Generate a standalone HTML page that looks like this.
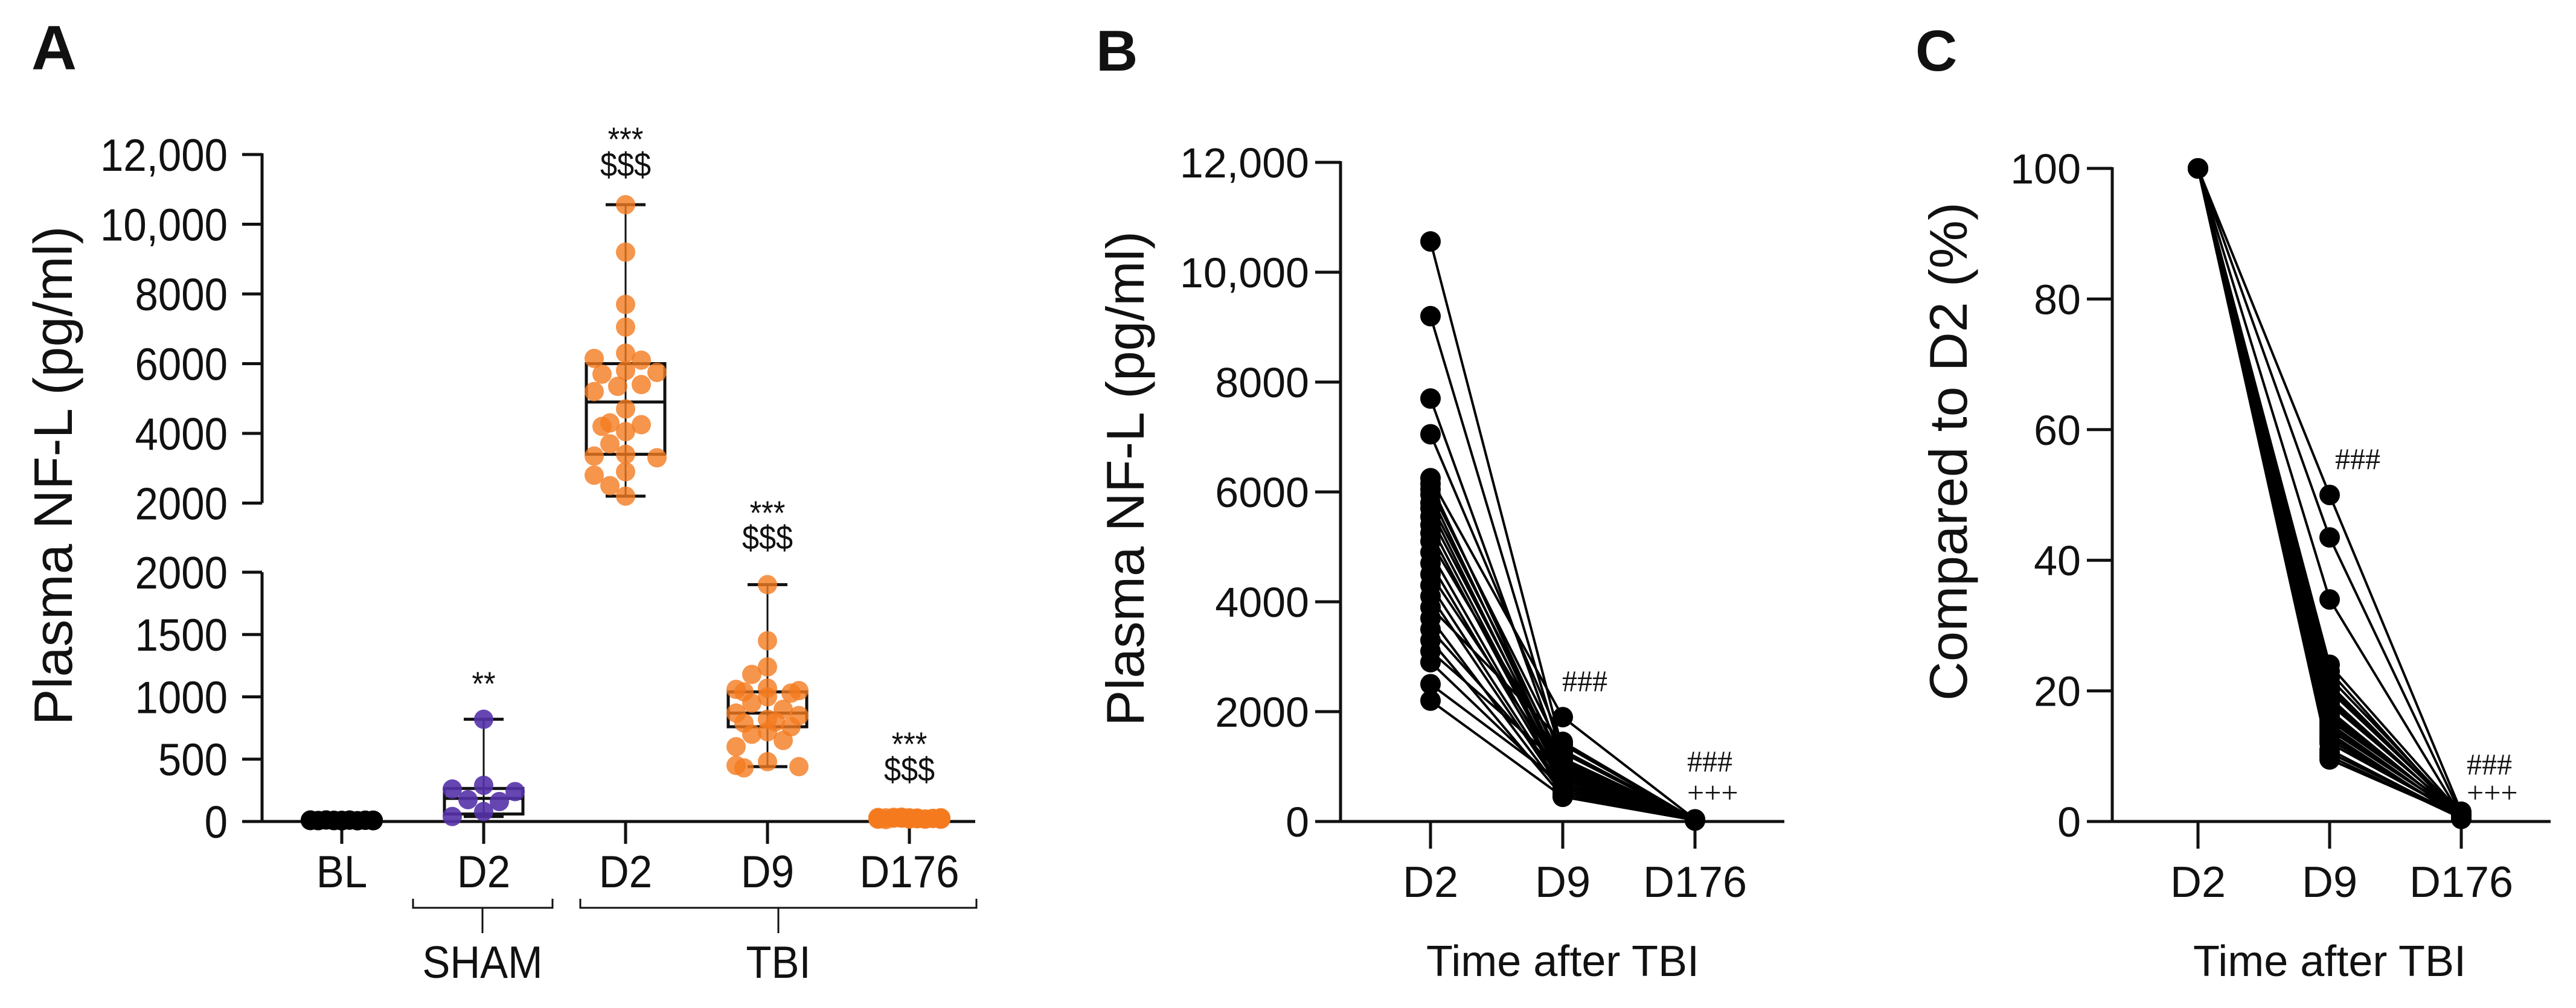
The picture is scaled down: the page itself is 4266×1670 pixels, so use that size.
<!DOCTYPE html>
<html><head><meta charset="utf-8"><style>
html,body{margin:0;padding:0;background:#fff;}
svg{display:block;}
text{font-family:"Liberation Sans",Arial,sans-serif;fill:#111;}
.ser{font-family:"Liberation Serif",serif;}
</style></head><body>
<svg id="fig" xmlns="http://www.w3.org/2000/svg" width="4266" height="1670" viewBox="0 0 4266 1670">
<g id="pa"></g>
<g id="pb"></g>
<g id="pc"></g>
</svg>
<script>
// ---------- Panel A data ----------
const catsA = ["BL","D2","D2","D9","D176"];
const groupsA = ["SHAM","TBI"];
const upperTicksA = [2000,4000,6000,8000,10000,12000];
const upperTickLabelsA = ["2000","4000","6000","8000","10,000","12,000"];
const lowerTicksA = [0,500,1000,1500,2000];
const lowerTickLabelsA = ["0","500","1000","1500","2000"];
const blVals = [5,8,10,12,6,9,11,7,10,8,12,6,9,10,7,11,8,10,9,12,6,8,10,9,11,7,10,8];
const shamD2Vals = [820,290,260,240,175,160,80,40];
const tbiD2Vals = [10560,9200,7700,7050,6300,6150,6100,5800,5750,5700,5400,5350,5200,4700,4300,4250,4200,4050,3700,3400,3350,3300,2900,2800,2500,2200];
const tbiD9Vals = [1900,1450,1240,1180,1070,1060,1050,1040,1030,1000,950,900,870,850,820,800,790,760,720,700,650,600,480,450,440,430];
const tbiD176Vals = [20,25,30,18,22,35,28,15,24,30,26,20,32,18,27,22,29,25,21,33,19,26,24,28,23];
const boxSham = {min:40,q1:60,med:185,q3:265,max:820};
const boxD2 = {min:2200,q1:3400,med:4900,q3:6000,max:10560};
const boxD9 = {min:440,q1:760,med:870,q3:1040,max:1900};
// ---------- Panel B data ----------
const catsB = ["D2","D9","D176"];
const ticksB = [0,2000,4000,6000,8000,10000,12000];
const tickLabelsB = ["0","2000","4000","6000","8000","10,000","12,000"];
const bD2 = [10560,9200,7700,7050,6250,6150,6050,5950,5800,5700,5550,5400,5250,5100,4900,4700,4500,4300,4100,3900,3700,3500,3300,3100,2900,2500,2200];
const bD9 = [1300,1150,1050,1400,1900,1000,1250,900,1100,850,950,800,750,1050,700,650,900,600,550,1450,500,800,450,1000,600,700,450];
const bD176 = [30,25,20,35,40,22,28,18,30,26,24,20,32,18,27,22,29,25,21,33,19,26,24,28,23,20,25];
// ---------- Panel C data ----------
const catsC = ["D2","D9","D176"];
const ticksC = [0,20,40,60,80,100];
const tickLabelsC = ["0","20","40","60","80","100"];
const cD9 = [50,43.5,34,24,23,22,21,20.5,20,19,18.5,18,17,16.5,16,15.5,15,14.5,14,13.5,13,12.5,12,11,10.5,10,9.5];
const cD176 = [1.5,1,0.8,1.2,0.5,1,0.7,0.9,1.1,0.6,0.8,1,0.5,0.7,0.9,1.2,0.6,0.8,1,0.4,0.7,0.9,1,0.6,0.8,0.5,0.7];

const NS="http://www.w3.org/2000/svg";
function mk(parent,tag,attrs,txt){const e=document.createElementNS(NS,tag);for(const k in attrs)e.setAttribute(k,attrs[k]);if(txt!==undefined)e.textContent=txt;parent.appendChild(e);return e;}
const SW=5;

// ================= Panel A =================
(function(){
const g=document.getElementById('pa');
const axX=434;
const yU=v=>833.5-(v-2000)*(577.5/10000);   // upper segment 2000..12000
const yL=v=>1361-v*(413/2000);              // lower segment 0..2000
const xCat=i=>566+i*235;
let t=mk(g,'text',{x:52,y:115,'font-size':104,'font-weight':'bold'},'A');

t=mk(g,'text',{transform:'translate(119,788) rotate(-90)','text-anchor':'middle','font-size':90,textLength:827,lengthAdjust:'spacingAndGlyphs'},'Plasma NF-L (pg/ml)');

let l=mk(g,'line',{x1:axX,y1:yU(12000)-2,x2:axX,y2:yU(2000),stroke:'#111','stroke-width':SW});

l=mk(g,'line',{x1:axX,y1:yL(2000),x2:axX,y2:yL(0),stroke:'#111','stroke-width':SW});

upperTicksA.forEach((v,i)=>{
  const y=yU(v);
  const tk=mk(g,'line',{x1:401,y1:y,x2:axX,y2:y,stroke:'#111','stroke-width':SW});
  
  const tl=mk(g,'text',{x:377,y:y+27,'text-anchor':'end','font-size':75,transform:`translate(${377*0.08},0) scale(0.92,1)`},upperTickLabelsA[i]);
  tl.setAttribute('x',377);
});
lowerTicksA.forEach((v,i)=>{
  const y=yL(v);
  const tk=mk(g,'line',{x1:401,y1:y,x2:axX,y2:y,stroke:'#111','stroke-width':SW});
  
  const tl=mk(g,'text',{x:377,y:y+27,'text-anchor':'end','font-size':75,transform:`translate(${377*0.08},0) scale(0.92,1)`},lowerTickLabelsA[i]);
  
});
l=mk(g,'line',{x1:401,y1:1361,x2:1615,y2:1361,stroke:'#111','stroke-width':SW});

catsA.forEach((c,i)=>{
  const x=xCat(i);
  const tk=mk(g,'line',{x1:x,y1:1361,x2:x,y2:1398,stroke:'#111','stroke-width':SW});
  
  const tl=mk(g,'text',{x:x,y:1470,'text-anchor':'middle','font-size':75,transform:`translate(${x*0.08},0) scale(0.92,1)`},c);
  
});
// brackets
function bracket(x1,x2,xs,label,name){
  const p=mk(g,'path',{d:`M${x1},1489 L${x1},1504 L${x2},1504 L${x2},1489 M${xs},1504 L${xs},1546`,fill:'none',stroke:'#111','stroke-width':3});
  
  const tl=mk(g,'text',{x:xs,y:1620,'text-anchor':'middle','font-size':75,transform:`translate(${xs*0.08},0) scale(0.92,1)`},label);
  
}
bracket(684,915,799,groupsA[0],'sham');
bracket(961,1617,1289,groupsA[1],'tbi');
// boxes
function box(b,i,ys,name){
  const x=xCat(i),hw=65,cw=33;
  const bg=mk(g,'g',{});
  mk(bg,'line',{x1:x,y1:ys(b.max),x2:x,y2:ys(b.min),stroke:'#111','stroke-width':3});
  mk(bg,'line',{x1:x-cw,y1:ys(b.max),x2:x+cw,y2:ys(b.max),stroke:'#111','stroke-width':5});
  mk(bg,'line',{x1:x-cw,y1:ys(b.min),x2:x+cw,y2:ys(b.min),stroke:'#111','stroke-width':5});
  mk(bg,'rect',{x:x-hw,y:ys(b.q3),width:2*hw,height:ys(b.q1)-ys(b.q3),fill:'none',stroke:'#111','stroke-width':5});
  mk(bg,'line',{x1:x-hw,y1:ys(b.med),x2:x+hw,y2:ys(b.med),stroke:'#111','stroke-width':5});
}
box(boxSham,1,yL,'box-sham-d2');
box(boxD2,2,yU,'box-tbi-d2');
box(boxD9,3,yL,'box-tbi-d9');
// swarm
function swarm(vals,i,ys,color,op,name){
  const x0=xCat(i),r=16;const placed=[];
  const sg=mk(g,'g',{});
  vals.forEach(v=>{
    const y=ys(v);const cands=[0,-26,26,-52,52,-13,13,-39,39];
    let best=cands[0];
    for(const c of cands){if(placed.every(p=>Math.hypot(p[0]-c,p[1]-y)>=2*r-4)){best=c;break;}best=null;}
    if(best===null)best=cands[placed.length%cands.length];
    placed.push([best,y]);
    const dot=mk(sg,'circle',{cx:x0+best,cy:y,r:r,fill:color,'fill-opacity':op});
    
  });
}
swarm(blVals,0,yL,'#000',1,'points-bl');
swarm(shamD2Vals,1,yL,'#5533aa',0.9,'points-sham-d2');
swarm(tbiD2Vals,2,yU,'#f47a1f',0.8,'points-tbi-d2');
swarm(tbiD9Vals,3,yL,'#f47a1f',0.8,'points-tbi-d9');
swarm(tbiD176Vals,4,yL,'#f47a1f',0.85,'points-tbi-d176');
// significance
function sig(x,y,txt,name){const s=mk(g,'text',{x:x,y:y,'text-anchor':'middle','font-size':56,transform:`translate(${x*0.1},0) scale(0.9,1)`},txt);}
sig(xCat(1),1152,'**','sig-sham-d2');
sig(xCat(2),250,'***','sig-tbi-d2-star');sig(xCat(2),292,'$$$','sig-tbi-d2-dollar');
sig(xCat(3),869,'***','sig-tbi-d9-star');sig(xCat(3),910,'$$$','sig-tbi-d9-dollar');
sig(xCat(4),1252,'***','sig-tbi-d176-star');sig(xCat(4),1294,'$$$','sig-tbi-d176-dollar');
})();

// ================= Panels B & C =================
function linePanel(gid,o){
const g=document.getElementById(gid);
const ys=v=>1361-(v-o.ymin)/(o.ymax-o.ymin)*(1361-o.ytop);
const xc=i=>o.xcats[i];
let t=mk(g,'text',{x:o.lx,y:117,'font-size':96,'font-weight':'bold'},o.letter);

t=mk(g,'text',{transform:`translate(${o.tx},${o.tyc}) rotate(-90)`,'text-anchor':'middle','font-size':88,textLength:o.tlen,lengthAdjust:'spacingAndGlyphs'},o.title);

let l=mk(g,'line',{x1:o.ax,y1:o.ytop-2,x2:o.ax,y2:1361,stroke:'#111','stroke-width':SW});

l=mk(g,'line',{x1:o.ax-42,y1:1361,x2:o.xend,y2:1361,stroke:'#111','stroke-width':SW});

o.ticks.forEach((v,i)=>{
  const y=ys(v);
  const tk=mk(g,'line',{x1:o.ax-42,y1:y,x2:o.ax,y2:y,stroke:'#111','stroke-width':SW});
  
  const tl=mk(g,'text',{x:o.ax-52,y:y+25,'text-anchor':'end','font-size':70},o.tickLabels[i]);
  
});
o.cats.forEach((c,i)=>{
  const x=xc(i);
  const tk=mk(g,'line',{x1:x,y1:1361,x2:x,y2:1406,stroke:'#111','stroke-width':SW});
  
  const tl=mk(g,'text',{x:x,y:1486,'text-anchor':'middle','font-size':72},c);
  
});
t=mk(g,'text',{x:xc(1),y:1617,'text-anchor':'middle','font-size':72},'Time after TBI');

const lg=mk(g,'g',{});
const dg=mk(g,'g',{});
for(let s=0;s<o.s0.length;s++){
  const vals=[o.s0[s],o.s1[s],o.s2[s]];
  const pl=mk(lg,'polyline',{points:vals.map((v,i)=>xc(i)+','+ys(v)).join(' '),fill:'none',stroke:'#000','stroke-width':4});
  
  vals.forEach((v,i)=>{const c=mk(dg,'circle',{cx:xc(i),cy:ys(v),r:17,fill:'#000'});});
}
o.sigs.forEach(s=>{const st=mk(g,'text',{x:s[0],y:s[1],'font-size':50,'class':'ser'},s[2]);});
}
linePanel('pb',{letter:'B',lx:1815,title:'Plasma NF-L (pg/ml)',tx:1894,tyc:793,tlen:820,ax:2220,ytop:269,ymin:0,ymax:12000,
  xcats:[2369,2588,2807],xend:2955,cats:catsB,ticks:ticksB,tickLabels:tickLabelsB,s0:bD2,s1:bD9,s2:bD176,
  sigs:[[2587,1145,'###','sig-b-d9'],[2794,1278,'###','sig-b-d176-hash'],[2794,1330,'+++','sig-b-d176-plus']]});
const cD2=cD9.map(()=>100);
linePanel('pc',{letter:'C',lx:3172,title:'Compared to D2 (%)',tx:3257,tyc:748,tlen:826,ax:3498,ytop:279,ymin:0,ymax:100,
  xcats:[3640,3858,4076],xend:4224,cats:catsC,ticks:ticksC,tickLabels:tickLabelsC,s0:cD2,s1:cD9,s2:cD176,
  sigs:[[3867,777,'###','sig-c-d9'],[4085,1283,'###','sig-c-d176-hash'],[4085,1330,'+++','sig-c-d176-plus']]});
</script>
</body></html>
